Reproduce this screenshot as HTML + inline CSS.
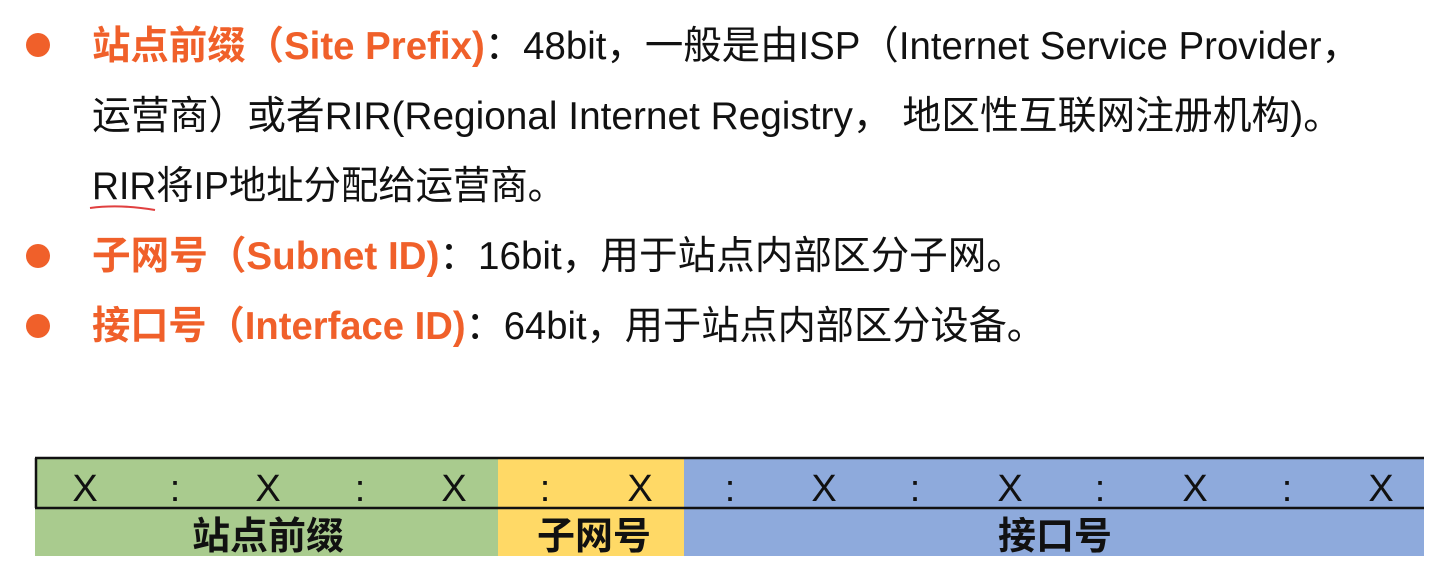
<!DOCTYPE html>
<html><head><meta charset="utf-8"><style>
body{margin:0;width:1448px;height:588px;background:#fff;overflow:hidden;position:relative}
svg{position:absolute;left:0;top:0}
</style></head><body>
<svg width="1448" height="588" xmlns="http://www.w3.org/2000/svg" font-family="Liberation Sans, Noto Sans CJK SC, sans-serif" font-size="39">
<g fill="#f0602a">
<circle cx="38" cy="45" r="12"/><circle cx="38" cy="256" r="12"/><circle cx="38" cy="326" r="12"/>
</g>
<text x="92" y="59" textLength="1268" lengthAdjust="spacingAndGlyphs" fill="#111"><tspan fill="#f0602a" font-weight="bold">站点前缀（Site Prefix)</tspan>：48bit，一般是由ISP（Internet Service Provider，</text>
<text x="92" y="129" textLength="1250" lengthAdjust="spacingAndGlyphs" fill="#111">运营商）或者RIR(Regional Internet Registry， 地区性互联网注册机构)。</text>
<text x="92" y="199" textLength="473" lengthAdjust="spacingAndGlyphs" fill="#111">RIR将IP地址分配给运营商。</text>
<path d="M90 208 Q120 204 155 210" stroke="#e04040" stroke-width="2" fill="none"/>
<text x="92" y="269" textLength="933" lengthAdjust="spacingAndGlyphs" fill="#111"><tspan fill="#f0602a" font-weight="bold">子网号（Subnet ID)</tspan>：16bit，用于站点内部区分子网。</text>
<text x="92" y="339" textLength="953" lengthAdjust="spacingAndGlyphs" fill="#111"><tspan fill="#f0602a" font-weight="bold">接口号（Interface ID)</tspan>：64bit，用于站点内部区分设备。</text>
<rect x="35" y="458" width="463" height="98" fill="#a9cb8e"/>
<rect x="498" y="458" width="186" height="98" fill="#ffd966"/>
<rect x="684" y="458" width="740" height="98" fill="#8eaadc"/>
<path d="M35 458 H1424 M35 508 H1424 M36 458 V508" stroke="#111" stroke-width="2.5" fill="none"/>
<g font-size="38" text-anchor="middle" fill="#111">
<text x="85" y="501">X</text><text x="175" y="501">:</text><text x="268" y="501">X</text><text x="360" y="501">:</text><text x="454" y="501">X</text><text x="545" y="501">:</text><text x="640" y="501">X</text><text x="730" y="501">:</text><text x="824" y="501">X</text><text x="915" y="501">:</text><text x="1010" y="501">X</text><text x="1100" y="501">:</text><text x="1195" y="501">X</text><text x="1287" y="501">:</text><text x="1381" y="501">X</text>
<text x="268" y="549" font-weight="bold">站点前缀</text>
<text x="594" y="549" font-weight="bold">子网号</text>
<text x="1055" y="549" font-weight="bold">接口号</text>
</g>
</svg>
</body></html>
